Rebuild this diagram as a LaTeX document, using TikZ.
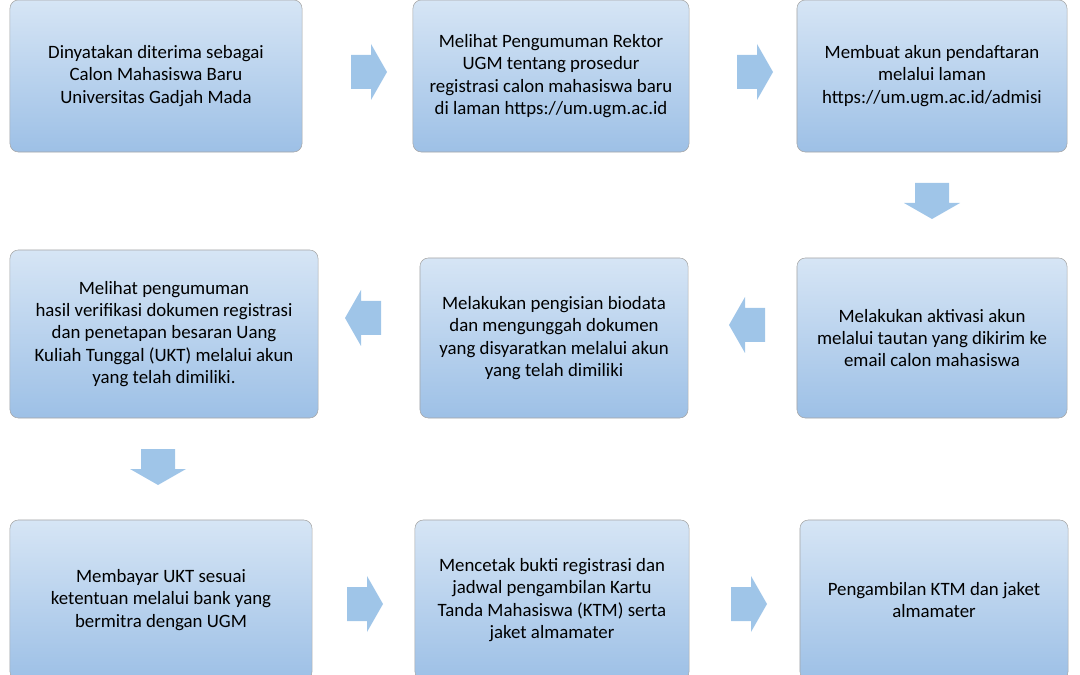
\documentclass[tikz,border=0pt]{standalone}
\usepackage{fontspec}
\setmainfont{Carlito}
\definecolor{boxtop}{HTML}{D6E5F5}
\definecolor{boxbot}{HTML}{9DC0E6}
\definecolor{arr}{HTML}{9FC5E8}
\tikzset{
  stepbox/.style={draw=gray!70, rounded corners=6pt, top color=boxtop, bottom color=boxbot,
    align=center, font=\fontsize{13.4}{15.8}\selectfont, inner sep=4pt},
  blockarrow/.pic={\fill[arr] (-17,-17) -- (3,-17) -- (3,-28) -- (19,0) -- (3,28) -- (3,17) -- (-17,17) -- cycle;}
}
\begin{document}
\begin{tikzpicture}[x=0.025cm,y=-0.025cm]
  \useasboundingbox (0,0) rectangle (1080,675);
  % first row
  \node[stepbox, minimum width=7.3cm, minimum height=3.8cm] (b1) at (156,76)
    {Dinyatakan diterima sebagai\\Calon Mahasiswa Baru\\Universitas Gadjah Mada};
  \node[stepbox, minimum width=6.9cm, minimum height=3.8cm] (b2) at (551,76)
    {Melihat Pengumuman Rektor\\UGM tentang prosedur\\registrasi calon mahasiswa baru\\di laman https://um.ugm.ac.id};
  \node[stepbox, minimum width=6.75cm, minimum height=3.8cm] (b3) at (932,76)
    {Membuat akun\ pendaftaran\\melalui laman\\https://um.ugm.ac.id/admisi};
  % second row
  \node[stepbox, minimum width=7.7cm, minimum height=4.2cm] (b6) at (164,334)
    {Melihat pengumuman\\hasil verifikasi dokumen registrasi\\dan penetapan besaran Uang\\Kuliah Tunggal (UKT) melalui akun\\yang telah dimiliki.};
  \node[stepbox, minimum width=6.7cm, minimum height=4.0cm] (b5) at (554,338)
    {Melakukan pengisian biodata\\dan mengunggah dokumen\\yang disyaratkan melalui akun\\yang telah dimiliki};
  \node[stepbox, minimum width=6.75cm, minimum height=4.0cm] (b4) at (932,338)
    {Melakukan aktivasi akun\\melalui tautan yang dikirim ke\\email calon mahasiswa};
  % third row
  \node[stepbox, minimum width=7.55cm, minimum height=4.0cm] (b7) at (161,600)
    {Membayar UKT sesuai\\ketentuan melalui bank yang\\bermitra dengan UGM};
  \node[stepbox, minimum width=6.85cm, minimum height=4.0cm] (b8) at (552,600)
    {Mencetak bukti registrasi dan\\jadwal pengambilan Kartu\\Tanda Mahasiswa (KTM) serta\\jaket almamater};
  \node[stepbox, minimum width=6.7cm, minimum height=4.0cm] (b9) at (934,600)
    {Pengambilan KTM dan jaket\\almamater};
  % arrows
  \pic at (368,72) {blockarrow};
  \pic at (754,72) {blockarrow};
  \pic[rotate=-90] at (932,200) {blockarrow};
  \pic[rotate=180] at (748,325) {blockarrow};
  \pic[rotate=180] at (364,318) {blockarrow};
  \pic[rotate=-90] at (158,466) {blockarrow};
  \pic at (364,604) {blockarrow};
  \pic at (748,604) {blockarrow};
\end{tikzpicture}
\end{document}
